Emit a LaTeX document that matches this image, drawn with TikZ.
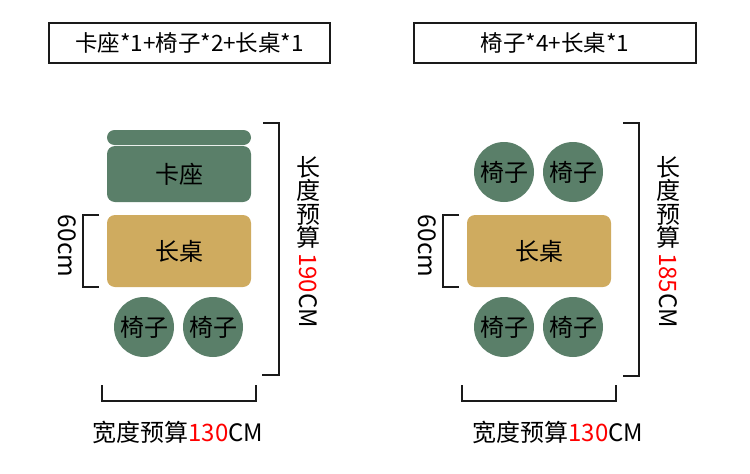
\documentclass[tikz,border=0pt]{standalone}
\usepackage{fontspec}
\setmainfont{Noto Sans CJK SC}
\definecolor{seatgreen}{HTML}{5A7F69}
\definecolor{tablegold}{HTML}{CFAB5F}
\definecolor{numred}{HTML}{FF0000}
\definecolor{ink}{HTML}{1A1A1A}
\tikzset{
  titlebox/.style={draw=ink, line width=1.3pt, minimum height=40pt, inner sep=0pt, font=\fontsize{22.5}{24}\selectfont},
  greenbox/.style={fill=seatgreen, rounded corners=8pt, inner sep=0pt, font=\fontsize{24}{26}\selectfont},
  tablebox/.style={fill=tablegold, rounded corners=8pt, inner sep=0pt, font=\fontsize{24}{26}\selectfont},
  chair/.style={circle, fill=seatgreen, minimum size=60pt, inner sep=0pt, font=\fontsize{24}{26}\selectfont},
  bracket/.style={draw=ink, line width=2pt},
  label/.style={inner sep=0pt, font=\fontsize{24}{26}\selectfont},
  sidelabel/.style={inner sep=0pt, font=\fontsize{24.5}{26}\selectfont},
  vlabel/.style={inner sep=0pt, align=center, font=\fontsize{24}{23.5}\selectfont},
}
\begin{document}
\begin{tikzpicture}[x=1pt,y=-1pt]
\useasboundingbox (0,0) rectangle (750,474);
% ---------- left panel ----------
\node[titlebox, minimum width=281pt] (t1) at (189.5,43) {卡座*1+椅子*2+长桌*1};
\node[fill=seatgreen, rounded corners=7.5pt, minimum width=144pt, minimum height=15pt, inner sep=0pt] (bar1) at (179,137.5) {};
\node[greenbox, minimum width=144pt, minimum height=56pt] (seat1) at (179,174) {卡座};
\node[tablebox, minimum width=144pt, minimum height=72pt] (tab1) at (179,251) {长桌};
\node[chair] (c1a) at (144,327) {椅子};
\node[chair] (c1b) at (213,327) {椅子};
% 60cm bracket
\coordinate (b1t) at (99,215);
\coordinate (b1b) at (99,287);
\draw[bracket] (b1t) -- ++(-16,0) |- (b1b);
\node[sidelabel, rotate=-90] (l1) at (67,246) {60cm};
% right bracket
\coordinate (r1t) at (263,123);
\coordinate (r1b) at (262,375);
\draw[bracket] (r1t) -| (279,375) -- (r1b);
\node[vlabel, anchor=north] (v1a) at (308,156) {长\\度\\预\\算};
\node[label, rotate=-90, anchor=west] (v1b) at (308,253) {\textcolor{numred}{190}CM};
% bottom bracket
\coordinate (w1l) at (102,385);
\coordinate (w1r) at (256,385);
\draw[bracket] (w1l) |- (256,401) -- (w1r);
\node[label] (wl1) at (178,432) {宽度预算\textcolor{numred}{130}CM};
% ---------- right panel ----------
\node[titlebox, minimum width=282pt] (t2) at (555,43) {椅子*4+长桌*1};
\node[chair] (c2a) at (504,172) {椅子};
\node[chair] (c2b) at (573,172) {椅子};
\node[tablebox, minimum width=144pt, minimum height=72pt] (tab2) at (539,251) {长桌};
\node[chair] (c2c) at (504,327) {椅子};
\node[chair] (c2d) at (573,327) {椅子};
\coordinate (b2t) at (459,215);
\coordinate (b2b) at (459,287);
\draw[bracket] (b2t) -- ++(-16,0) |- (b2b);
\node[sidelabel, rotate=-90] (l2) at (427,246) {60cm};
\coordinate (r2t) at (623,123);
\coordinate (r2b) at (623,376);
\draw[bracket] (r2t) -| (639,376) -- (r2b);
\node[vlabel, anchor=north] (v2a) at (668,156) {长\\度\\预\\算};
\node[label, rotate=-90, anchor=west] (v2b) at (668,253) {\textcolor{numred}{185}CM};
\coordinate (w2l) at (462,385);
\coordinate (w2r) at (616,385);
\draw[bracket] (w2l) |- (616,401) -- (w2r);
\node[label] (wl2) at (558,432) {宽度预算\textcolor{numred}{130}CM};
\end{tikzpicture}
\end{document}
